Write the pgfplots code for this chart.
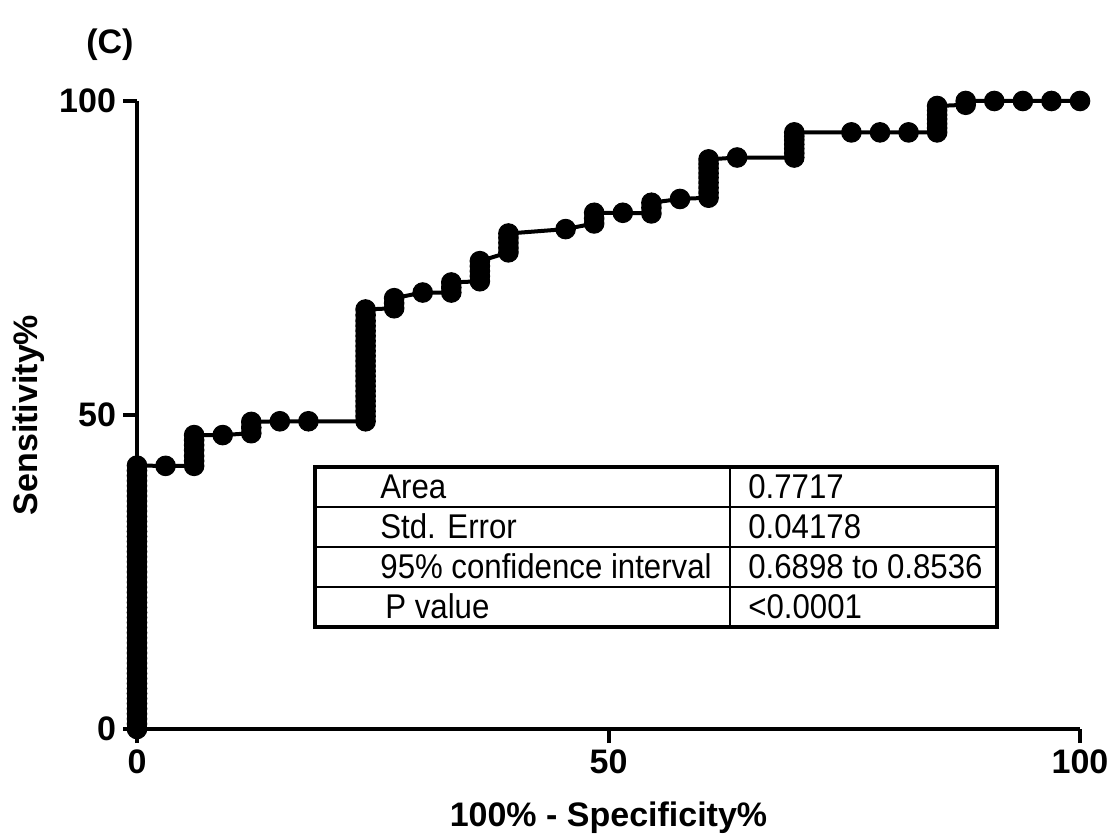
\documentclass[border=0pt]{standalone}
\usepackage{pgfplots}
\pgfplotsset{compat=1.18}
\usepackage{graphicx}
\usepackage{fontspec}
\setmainfont{Liberation Sans}
\newcommand{\tabtxt}[1]{\scalebox{1}[1.1]{#1}}
\begin{document}
\begin{tikzpicture}
\useasboundingbox (-68.5pt,-52.5pt) rectangle (487.5pt,364.5pt);
\begin{axis}[
  at={(0pt,0pt)}, anchor=south west,
  scale only axis, width=471.5pt, height=314pt,
  xmin=0, xmax=100, ymin=0, ymax=100,
  enlargelimits=false, clip=false,
  axis lines=left,
  axis line style={-, line width=2pt, black},
  xtick={0,50,100}, ytick={0,50,100},
  tick align=outside, major tick length=7pt,
  tick style={line width=2pt, black},
  /pgf/number format/assume math mode=true,
  tick label style={font=\fontsize{17}{20}\selectfont\bfseries},
  xlabel={100\% - Specificity\%},
  ylabel={Sensitivity\%},
  label style={font=\fontsize{17}{20}\selectfont\bfseries},
  x label style={at={(axis description cs:0.5,-0.1405)}, anchor=center},
  y label style={at={(axis description cs:-0.1145,0.5)}, anchor=center},
]
\addplot[black, line width=2pt, line join=round, mark=*, mark size=4.9pt,
  mark options={solid, fill=black, draw=black, line width=0.5pt}]
coordinates {
(0,0) (0,0.81) (0,1.61) (0,2.42) (0,3.23) (0,4.03) (0,4.84) (0,5.65) (0,6.45)
(0,7.26) (0,8.06) (0,8.87) (0,9.68) (0,10.48) (0,11.29) (0,12.10) (0,12.90)
(0,13.71) (0,14.52) (0,15.32) (0,16.13) (0,16.94) (0,17.74) (0,18.55) (0,19.35)
(0,20.16) (0,20.97) (0,21.77) (0,22.58) (0,23.39) (0,24.19) (0,25.00) (0,25.81)
(0,26.61) (0,27.42) (0,28.23) (0,29.03) (0,29.84) (0,30.65) (0,31.45) (0,32.26)
(0,33.06) (0,33.87) (0,34.68) (0,35.48) (0,36.29) (0,37.10) (0,37.90) (0,38.71)
(0,39.52) (0,40.32) (0,41.13) (0,41.94)
(3.03,41.9)
(6.06,41.9) (6.06,42.7) (6.06,43.5) (6.06,44.4) (6.06,45.2) (6.06,46.0) (6.06,46.8)
(9.09,46.8)
(12.12,47.1) (12.12,48.0) (12.12,48.9)
(15.15,49.0)
(18.18,49.0)
(24.24,49.0) (24.24,49.8) (24.24,50.6) (24.24,51.4) (24.24,52.2) (24.24,53.0)
(24.24,53.8) (24.24,54.6) (24.24,55.4) (24.24,56.2) (24.24,57.0) (24.24,57.8)
(24.24,58.6) (24.24,59.4) (24.24,60.2) (24.24,61.0) (24.24,61.8) (24.24,62.6)
(24.24,63.4) (24.24,64.2) (24.24,65.0) (24.24,65.9) (24.24,66.8)
(27.27,67.0) (27.27,67.8) (27.27,68.6)
(30.30,69.5)
(33.33,69.5) (33.33,70.3) (33.33,71.1)
(36.36,71.3) (36.36,72.1) (36.36,72.9) (36.36,73.7) (36.36,74.5)
(39.39,75.9) (39.39,76.6) (39.39,77.4) (39.39,78.2) (39.39,78.9)
(45.45,79.6)
(48.48,80.5) (48.48,81.3) (48.48,82.2)
(51.52,82.2)
(54.55,82.1) (54.55,83.0) (54.55,83.8)
(57.58,84.4)
(60.61,84.6) (60.61,85.4) (60.61,86.2) (60.61,87.0) (60.61,87.8) (60.61,88.5)
(60.61,89.3) (60.61,90.0) (60.61,90.7)
(63.64,91.0)
(69.70,91.0) (69.70,91.7) (69.70,92.4) (69.70,93.1) (69.70,93.8) (69.70,94.4) (69.70,95.0)
(75.76,95.0)
(78.79,95.0)
(81.82,95.0)
(84.85,95.0) (84.85,95.7) (84.85,96.4) (84.85,97.1) (84.85,97.8) (84.85,98.5) (84.85,99.2)
(87.88,99.4) (87.88,100)
(90.91,100)
(93.94,100)
(96.97,100)
(100,100)
};
% statistics table
\fill[white] (axis cs:18.88,16.24) rectangle (axis cs:91.2,41.72);
\draw[line width=1pt] (axis cs:18.88,35.35) -- (axis cs:91.2,35.35);
\draw[line width=1pt] (axis cs:18.88,28.98) -- (axis cs:91.2,28.98);
\draw[line width=1pt] (axis cs:18.88,22.61) -- (axis cs:91.2,22.61);
\draw[line width=1pt] (axis cs:62.88,16.24) -- (axis cs:62.88,41.72);
\draw[line width=1.6pt] (axis cs:18.88,16.24) rectangle (axis cs:91.2,41.72);
\begin{scope}[every node/.style={font=\fontsize{15.6}{18}\selectfont, anchor=base west, inner sep=0pt}]
\node at (axis cs:25.77,36.7) {\tabtxt{Area}};
\node at (axis cs:25.77,30.4) {\tabtxt{Std. Error}};
\node at (axis cs:25.77,24.0) {\tabtxt{95\% confidence interval}};
\node at (axis cs:26.3,17.6) {\tabtxt{P value}};
\node at (axis cs:64.79,36.7) {\tabtxt{0.7717}};
\node at (axis cs:64.79,30.4) {\tabtxt{0.04178}};
\node at (axis cs:64.79,24.0) {\tabtxt{0.6898 to 0.8536}};
\node at (axis cs:64.79,17.6) {\tabtxt{<0.0001}};
\end{scope}
\node[font=\fontsize{17}{20}\selectfont\bfseries] at (axis description cs:-0.0287,1.089) {(C)};
\end{axis}
\end{tikzpicture}
\end{document}
